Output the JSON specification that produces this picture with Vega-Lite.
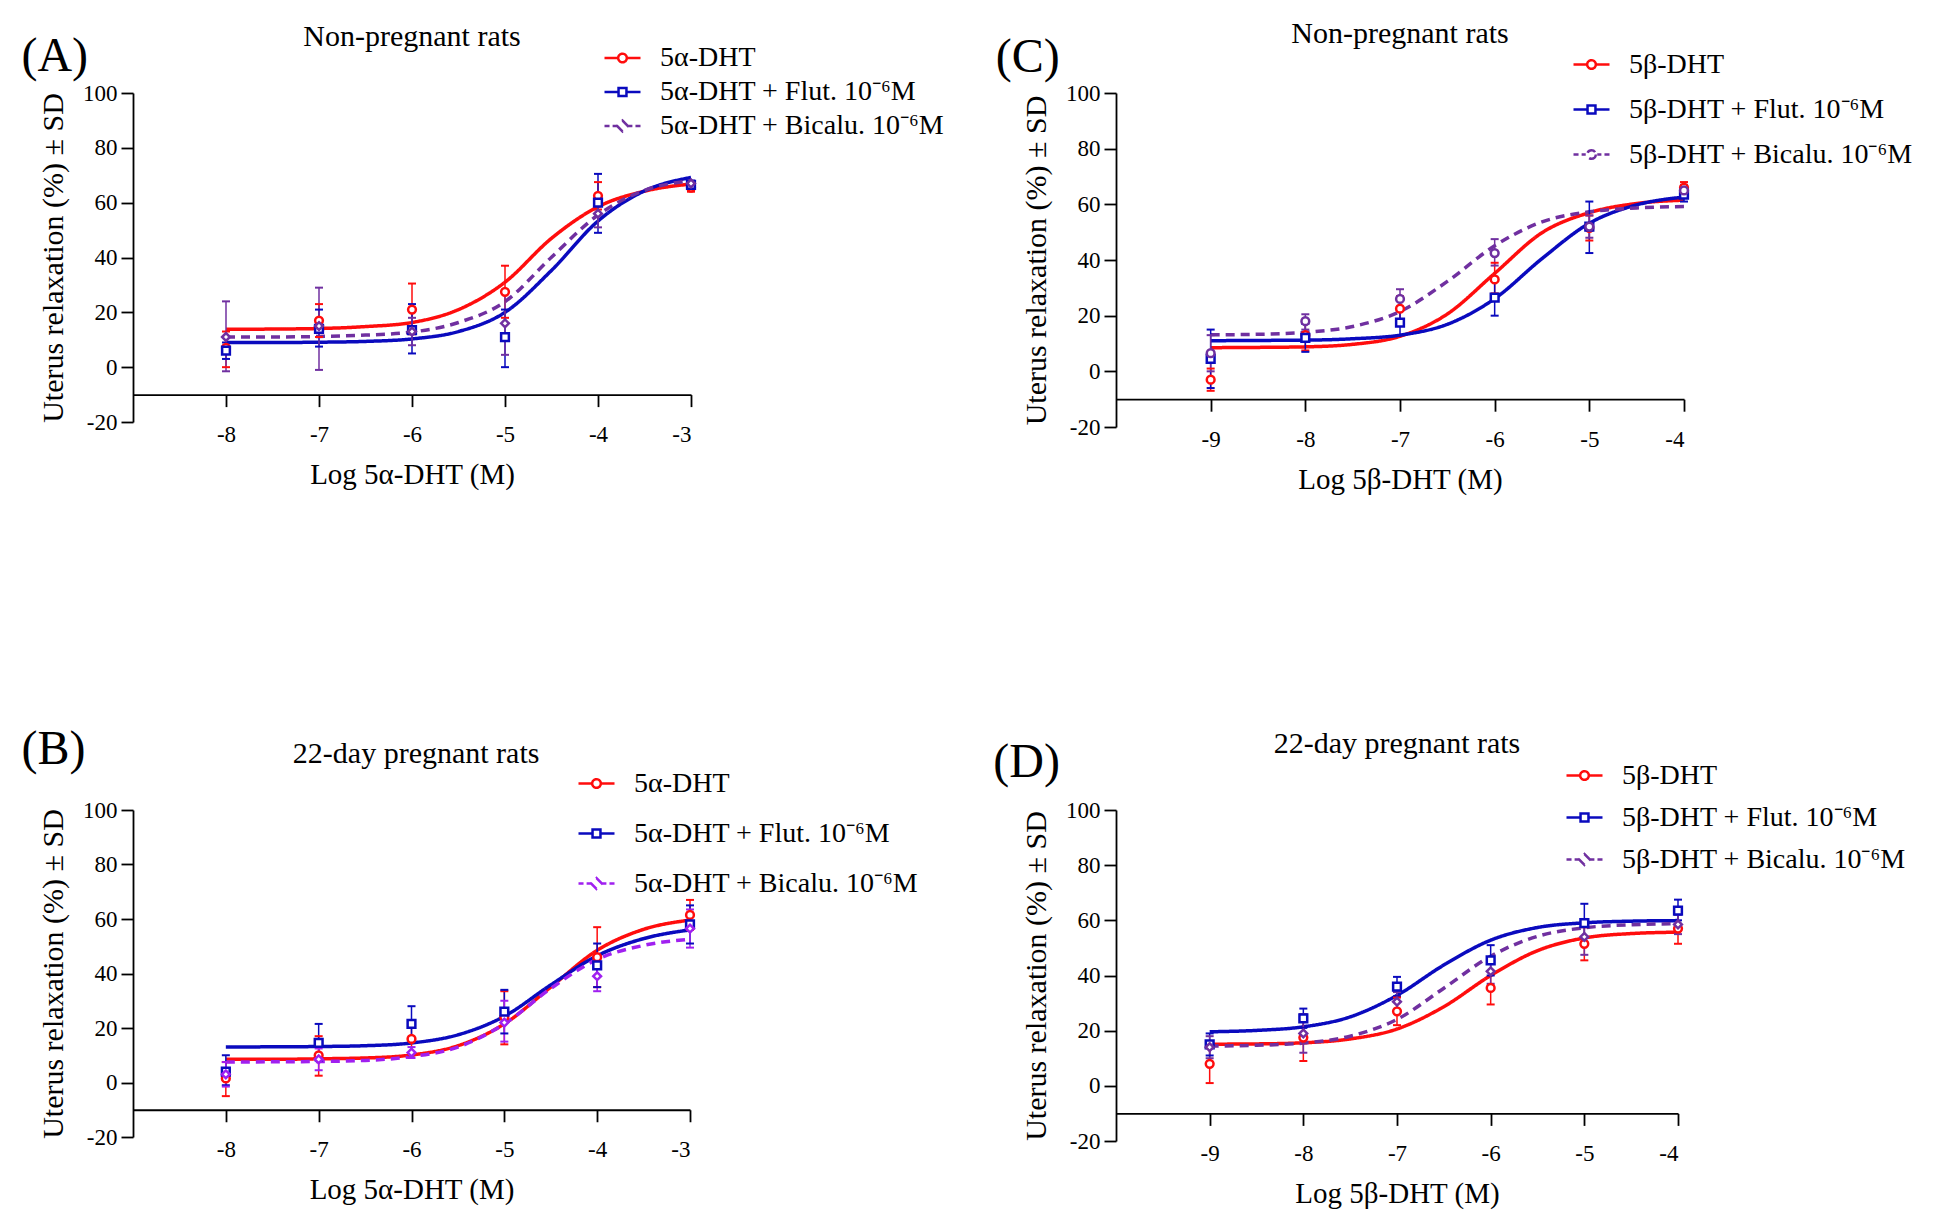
{
  "$schema": "https://vega.github.io/schema/vega-lite/v6.json",
  "background": "white",
  "padding": {"left": 21, "top": 18, "right": 10, "bottom": 10},
  "config": {
    "font": "Liberation Serif",
    "view": {"stroke": null},
    "axis": {"domainColor": "black", "domainWidth": 1.8, "tickColor": "black", "tickWidth": 1.8, "tickSize": 12, "labelColor": "black", "labelFont": "Liberation Serif", "labelFontSize": 23, "titleFont": "Liberation Serif", "titleFontSize": 29, "titleFontWeight": "normal", "titleColor": "black", "grid": false},
    "axisX": {"labelPadding": 17, "titlePadding": 14},
    "axisY": {"labelPadding": 4, "titlePadding": 14, "titleFontSize": 30},
    "legend": {"orient": "none", "title": null, "labelFont": "Liberation Serif", "labelFontSize": 28, "labelColor": "black", "labelLimit": 0, "symbolSize": 1296, "symbolStrokeWidth": 2.5, "symbolOpacity": 1, "symbolFillColor": "white", "labelOffset": 18, "padding": 0}
  },
  "datasets": {
    "ptsA": [
      {"s": "5α-DHT", "x": -8, "y": 7, "lo": 0, "hi": 13},
      {"s": "5α-DHT", "x": -7, "y": 17, "lo": 11, "hi": 23},
      {"s": "5α-DHT", "x": -6, "y": 21, "lo": 12, "hi": 30.5},
      {"s": "5α-DHT", "x": -5, "y": 27.5, "lo": 18, "hi": 37},
      {"s": "5α-DHT", "x": -4, "y": 62.5, "lo": 57.5, "hi": 67.5},
      {"s": "5α-DHT", "x": -3, "y": 65.5, "lo": 64, "hi": 67},
      {"s": "5α-DHT + Flut. 10⁻⁶M", "x": -8, "y": 6, "lo": 3, "hi": 9},
      {"s": "5α-DHT + Flut. 10⁻⁶M", "x": -7, "y": 14, "lo": 7.5, "hi": 21},
      {"s": "5α-DHT + Flut. 10⁻⁶M", "x": -6, "y": 13.5, "lo": 5, "hi": 23},
      {"s": "5α-DHT + Flut. 10⁻⁶M", "x": -5, "y": 11, "lo": 0, "hi": 21},
      {"s": "5α-DHT + Flut. 10⁻⁶M", "x": -4, "y": 60, "lo": 49, "hi": 70.5},
      {"s": "5α-DHT + Flut. 10⁻⁶M", "x": -3, "y": 66.5, "lo": 65, "hi": 68},
      {"s": "5α-DHT + Bicalu. 10⁻⁶M", "x": -8, "y": 11, "lo": -1.5, "hi": 24},
      {"s": "5α-DHT + Bicalu. 10⁻⁶M", "x": -7, "y": 15, "lo": -1, "hi": 29},
      {"s": "5α-DHT + Bicalu. 10⁻⁶M", "x": -6, "y": 13, "lo": 8, "hi": 18},
      {"s": "5α-DHT + Bicalu. 10⁻⁶M", "x": -5, "y": 16, "lo": 4.5, "hi": 27.5},
      {"s": "5α-DHT + Bicalu. 10⁻⁶M", "x": -4, "y": 56, "lo": 51, "hi": 61},
      {"s": "5α-DHT + Bicalu. 10⁻⁶M", "x": -3, "y": 67, "lo": 66, "hi": 68}
    ],
    "fitA": [
      {"s": "5α-DHT", "x": -8, "y": 13.8}, {"s": "5α-DHT", "x": -7.5, "y": 13.9}, {"s": "5α-DHT", "x": -7, "y": 14.1}, {"s": "5α-DHT", "x": -6.5, "y": 14.8}, {"s": "5α-DHT", "x": -6, "y": 16.3}, {"s": "5α-DHT", "x": -5.5, "y": 21}, {"s": "5α-DHT", "x": -5, "y": 31}, {"s": "5α-DHT", "x": -4.5, "y": 47}, {"s": "5α-DHT", "x": -4, "y": 58.5}, {"s": "5α-DHT", "x": -3.5, "y": 64.2}, {"s": "5α-DHT", "x": -3, "y": 66.8},
      {"s": "5α-DHT + Flut. 10⁻⁶M", "x": -8, "y": 9}, {"s": "5α-DHT + Flut. 10⁻⁶M", "x": -7.5, "y": 9}, {"s": "5α-DHT + Flut. 10⁻⁶M", "x": -7, "y": 9.1}, {"s": "5α-DHT + Flut. 10⁻⁶M", "x": -6.5, "y": 9.4}, {"s": "5α-DHT + Flut. 10⁻⁶M", "x": -6, "y": 10.3}, {"s": "5α-DHT + Flut. 10⁻⁶M", "x": -5.5, "y": 13}, {"s": "5α-DHT + Flut. 10⁻⁶M", "x": -5, "y": 20}, {"s": "5α-DHT + Flut. 10⁻⁶M", "x": -4.5, "y": 35.3}, {"s": "5α-DHT + Flut. 10⁻⁶M", "x": -4, "y": 53.3}, {"s": "5α-DHT + Flut. 10⁻⁶M", "x": -3.5, "y": 64.3}, {"s": "5α-DHT + Flut. 10⁻⁶M", "x": -3, "y": 69.2},
      {"s": "5α-DHT + Bicalu. 10⁻⁶M", "x": -8, "y": 11}, {"s": "5α-DHT + Bicalu. 10⁻⁶M", "x": -7.5, "y": 11}, {"s": "5α-DHT + Bicalu. 10⁻⁶M", "x": -7, "y": 11.2}, {"s": "5α-DHT + Bicalu. 10⁻⁶M", "x": -6.5, "y": 11.7}, {"s": "5α-DHT + Bicalu. 10⁻⁶M", "x": -6, "y": 12.8}, {"s": "5α-DHT + Bicalu. 10⁻⁶M", "x": -5.5, "y": 16.3}, {"s": "5α-DHT + Bicalu. 10⁻⁶M", "x": -5, "y": 23.9}, {"s": "5α-DHT + Bicalu. 10⁻⁶M", "x": -4.5, "y": 40.1}, {"s": "5α-DHT + Bicalu. 10⁻⁶M", "x": -4, "y": 55.5}, {"s": "5α-DHT + Bicalu. 10⁻⁶M", "x": -3.5, "y": 64.5}, {"s": "5α-DHT + Bicalu. 10⁻⁶M", "x": -3, "y": 68}
    ],
    "annA": [{"t": "(A)", "k": "letter", "x": -10.2, "y": 113}, {"t": "Non-pregnant rats", "k": "title", "x": -6, "y": 117.2}],
    "ptsB": [
      {"s": "5α-DHT", "x": -8, "y": 1.5, "lo": -5, "hi": 7.5},
      {"s": "5α-DHT", "x": -7, "y": 10, "lo": 2.5, "hi": 17},
      {"s": "5α-DHT", "x": -6, "y": 16, "lo": 10, "hi": 22},
      {"s": "5α-DHT", "x": -5, "y": 24, "lo": 14, "hi": 33.5},
      {"s": "5α-DHT", "x": -4, "y": 46, "lo": 35, "hi": 57},
      {"s": "5α-DHT", "x": -3, "y": 61.5, "lo": 56, "hi": 67},
      {"s": "5α-DHT + Flut. 10⁻⁶M", "x": -8, "y": 4, "lo": -1, "hi": 10},
      {"s": "5α-DHT + Flut. 10⁻⁶M", "x": -7, "y": 14.5, "lo": 8, "hi": 21.5},
      {"s": "5α-DHT + Flut. 10⁻⁶M", "x": -6, "y": 21.5, "lo": 15, "hi": 28},
      {"s": "5α-DHT + Flut. 10⁻⁶M", "x": -5, "y": 26, "lo": 18, "hi": 34},
      {"s": "5α-DHT + Flut. 10⁻⁶M", "x": -4, "y": 43, "lo": 35, "hi": 51},
      {"s": "5α-DHT + Flut. 10⁻⁶M", "x": -3, "y": 58, "lo": 51, "hi": 65},
      {"s": "5α-DHT + Bicalu. 10⁻⁶M", "x": -8, "y": 3, "lo": -1.5, "hi": 7.5},
      {"s": "5α-DHT + Bicalu. 10⁻⁶M", "x": -7, "y": 8.5, "lo": 4.5, "hi": 12.5},
      {"s": "5α-DHT + Bicalu. 10⁻⁶M", "x": -6, "y": 11, "lo": 9, "hi": 13},
      {"s": "5α-DHT + Bicalu. 10⁻⁶M", "x": -5, "y": 22, "lo": 15, "hi": 30},
      {"s": "5α-DHT + Bicalu. 10⁻⁶M", "x": -4, "y": 39, "lo": 33.5, "hi": 44.5},
      {"s": "5α-DHT + Bicalu. 10⁻⁶M", "x": -3, "y": 56.5, "lo": 49.5, "hi": 63.5}
    ],
    "fitB": [
      {"s": "5α-DHT", "x": -8, "y": 8.5}, {"s": "5α-DHT", "x": -7.5, "y": 8.5}, {"s": "5α-DHT", "x": -7, "y": 8.7}, {"s": "5α-DHT", "x": -6.5, "y": 9.0}, {"s": "5α-DHT", "x": -6, "y": 10.1}, {"s": "5α-DHT", "x": -5.5, "y": 13.5}, {"s": "5α-DHT", "x": -5, "y": 21.5}, {"s": "5α-DHT", "x": -4.5, "y": 35}, {"s": "5α-DHT", "x": -4, "y": 48.5}, {"s": "5α-DHT", "x": -3.5, "y": 56.2}, {"s": "5α-DHT", "x": -3, "y": 59.6},
      {"s": "5α-DHT + Flut. 10⁻⁶M", "x": -8, "y": 13}, {"s": "5α-DHT + Flut. 10⁻⁶M", "x": -7.5, "y": 13.1}, {"s": "5α-DHT + Flut. 10⁻⁶M", "x": -7, "y": 13.2}, {"s": "5α-DHT + Flut. 10⁻⁶M", "x": -6.5, "y": 13.5}, {"s": "5α-DHT + Flut. 10⁻⁶M", "x": -6, "y": 14.5}, {"s": "5α-DHT + Flut. 10⁻⁶M", "x": -5.5, "y": 17.5}, {"s": "5α-DHT + Flut. 10⁻⁶M", "x": -5, "y": 24.3}, {"s": "5α-DHT + Flut. 10⁻⁶M", "x": -4.5, "y": 35.8}, {"s": "5α-DHT + Flut. 10⁻⁶M", "x": -4, "y": 46.5}, {"s": "5α-DHT + Flut. 10⁻⁶M", "x": -3.5, "y": 52.8}, {"s": "5α-DHT + Flut. 10⁻⁶M", "x": -3, "y": 56},
      {"s": "5α-DHT + Bicalu. 10⁻⁶M", "x": -8, "y": 7.5}, {"s": "5α-DHT + Bicalu. 10⁻⁶M", "x": -7.5, "y": 7.6}, {"s": "5α-DHT + Bicalu. 10⁻⁶M", "x": -7, "y": 7.7}, {"s": "5α-DHT + Bicalu. 10⁻⁶M", "x": -6.5, "y": 8.1}, {"s": "5α-DHT + Bicalu. 10⁻⁶M", "x": -6, "y": 9.5}, {"s": "5α-DHT + Bicalu. 10⁻⁶M", "x": -5.5, "y": 13}, {"s": "5α-DHT + Bicalu. 10⁻⁶M", "x": -5, "y": 21.5}, {"s": "5α-DHT + Bicalu. 10⁻⁶M", "x": -4.5, "y": 34.5}, {"s": "5α-DHT + Bicalu. 10⁻⁶M", "x": -4, "y": 45.2}, {"s": "5α-DHT + Bicalu. 10⁻⁶M", "x": -3.5, "y": 50.3}, {"s": "5α-DHT + Bicalu. 10⁻⁶M", "x": -3, "y": 52.6}
    ],
    "annB": [{"t": "(B)", "k": "letter", "x": -10.2, "y": 122.2}, {"t": "22-day pregnant rats", "k": "title", "x": -5.95, "y": 117.4}],
    "ptsC": [
      {"s": "5β-DHT", "x": -9, "y": -3, "lo": -7, "hi": 1},
      {"s": "5β-DHT", "x": -8, "y": 13, "lo": 7.5, "hi": 17.5},
      {"s": "5β-DHT", "x": -7, "y": 22.5, "lo": 18, "hi": 27},
      {"s": "5β-DHT", "x": -6, "y": 33, "lo": 28, "hi": 39},
      {"s": "5β-DHT", "x": -5, "y": 51.5, "lo": 47, "hi": 56},
      {"s": "5β-DHT", "x": -4, "y": 66, "lo": 64, "hi": 68},
      {"s": "5β-DHT + Flut. 10⁻⁶M", "x": -9, "y": 4.5, "lo": -6, "hi": 15},
      {"s": "5β-DHT + Flut. 10⁻⁶M", "x": -8, "y": 12, "lo": 7, "hi": 17},
      {"s": "5β-DHT + Flut. 10⁻⁶M", "x": -7, "y": 17.5, "lo": 13, "hi": 22},
      {"s": "5β-DHT + Flut. 10⁻⁶M", "x": -6, "y": 26.5, "lo": 20, "hi": 33},
      {"s": "5β-DHT + Flut. 10⁻⁶M", "x": -5, "y": 52, "lo": 42.5, "hi": 61},
      {"s": "5β-DHT + Flut. 10⁻⁶M", "x": -4, "y": 63.5, "lo": 61, "hi": 66},
      {"s": "5β-DHT + Bicalu. 10⁻⁶M", "x": -9, "y": 6.5, "lo": 0, "hi": 13},
      {"s": "5β-DHT + Bicalu. 10⁻⁶M", "x": -8, "y": 18, "lo": 15, "hi": 20.5},
      {"s": "5β-DHT + Bicalu. 10⁻⁶M", "x": -7, "y": 26, "lo": 23, "hi": 29.5},
      {"s": "5β-DHT + Bicalu. 10⁻⁶M", "x": -6, "y": 42.5, "lo": 38, "hi": 47.5},
      {"s": "5β-DHT + Bicalu. 10⁻⁶M", "x": -5, "y": 52, "lo": 48, "hi": 56},
      {"s": "5β-DHT + Bicalu. 10⁻⁶M", "x": -4, "y": 65, "lo": 63, "hi": 67}
    ],
    "fitC": [
      {"s": "5β-DHT", "x": -9, "y": 8.5}, {"s": "5β-DHT", "x": -8.5, "y": 8.6}, {"s": "5β-DHT", "x": -8, "y": 8.8}, {"s": "5β-DHT", "x": -7.5, "y": 9.7}, {"s": "5β-DHT", "x": -7, "y": 12.6}, {"s": "5β-DHT", "x": -6.5, "y": 20.6}, {"s": "5β-DHT", "x": -6, "y": 35.2}, {"s": "5β-DHT", "x": -5.5, "y": 49.8}, {"s": "5β-DHT", "x": -5, "y": 57}, {"s": "5β-DHT", "x": -4.5, "y": 60.3}, {"s": "5β-DHT", "x": -4, "y": 61.5},
      {"s": "5β-DHT + Flut. 10⁻⁶M", "x": -9, "y": 11}, {"s": "5β-DHT + Flut. 10⁻⁶M", "x": -8.5, "y": 11.1}, {"s": "5β-DHT + Flut. 10⁻⁶M", "x": -8, "y": 11.2}, {"s": "5β-DHT + Flut. 10⁻⁶M", "x": -7.5, "y": 11.7}, {"s": "5β-DHT + Flut. 10⁻⁶M", "x": -7, "y": 13}, {"s": "5β-DHT + Flut. 10⁻⁶M", "x": -6.5, "y": 16.9}, {"s": "5β-DHT + Flut. 10⁻⁶M", "x": -6, "y": 26.1}, {"s": "5β-DHT + Flut. 10⁻⁶M", "x": -5.5, "y": 40.5}, {"s": "5β-DHT + Flut. 10⁻⁶M", "x": -5, "y": 53.2}, {"s": "5β-DHT + Flut. 10⁻⁶M", "x": -4.5, "y": 59.8}, {"s": "5β-DHT + Flut. 10⁻⁶M", "x": -4, "y": 62.6},
      {"s": "5β-DHT + Bicalu. 10⁻⁶M", "x": -9, "y": 13.1}, {"s": "5β-DHT + Bicalu. 10⁻⁶M", "x": -8.5, "y": 13.3}, {"s": "5β-DHT + Bicalu. 10⁻⁶M", "x": -8, "y": 14}, {"s": "5β-DHT + Bicalu. 10⁻⁶M", "x": -7.5, "y": 16.1}, {"s": "5β-DHT + Bicalu. 10⁻⁶M", "x": -7, "y": 21.5}, {"s": "5β-DHT + Bicalu. 10⁻⁶M", "x": -6.5, "y": 32.3}, {"s": "5β-DHT + Bicalu. 10⁻⁶M", "x": -6, "y": 45.1}, {"s": "5β-DHT + Bicalu. 10⁻⁶M", "x": -5.5, "y": 53.7}, {"s": "5β-DHT + Bicalu. 10⁻⁶M", "x": -5, "y": 57.3}, {"s": "5β-DHT + Bicalu. 10⁻⁶M", "x": -4.5, "y": 58.7}, {"s": "5β-DHT + Bicalu. 10⁻⁶M", "x": -4, "y": 59.2}
    ],
    "annC": [{"t": "(C)", "k": "letter", "x": -11.27, "y": 112.5}, {"t": "Non-pregnant rats", "k": "title", "x": -7, "y": 118}],
    "ptsD": [
      {"s": "5β-DHT", "x": -9, "y": 8, "lo": 1, "hi": 15},
      {"s": "5β-DHT", "x": -8, "y": 17.5, "lo": 9, "hi": 26},
      {"s": "5β-DHT", "x": -7, "y": 27, "lo": 22, "hi": 32},
      {"s": "5β-DHT", "x": -6, "y": 35.5, "lo": 29.5, "hi": 41.5},
      {"s": "5β-DHT", "x": -5, "y": 51.5, "lo": 45.5, "hi": 57.5},
      {"s": "5β-DHT", "x": -4, "y": 57, "lo": 51.5, "hi": 63},
      {"s": "5β-DHT + Flut. 10⁻⁶M", "x": -9, "y": 15, "lo": 11, "hi": 19},
      {"s": "5β-DHT + Flut. 10⁻⁶M", "x": -8, "y": 24.5, "lo": 21, "hi": 28},
      {"s": "5β-DHT + Flut. 10⁻⁶M", "x": -7, "y": 36, "lo": 32.5, "hi": 39.5},
      {"s": "5β-DHT + Flut. 10⁻⁶M", "x": -6, "y": 45.5, "lo": 40, "hi": 51},
      {"s": "5β-DHT + Flut. 10⁻⁶M", "x": -5, "y": 59, "lo": 52, "hi": 66},
      {"s": "5β-DHT + Flut. 10⁻⁶M", "x": -4, "y": 63.5, "lo": 60, "hi": 67.5},
      {"s": "5β-DHT + Bicalu. 10⁻⁶M", "x": -9, "y": 14, "lo": 10, "hi": 18},
      {"s": "5β-DHT + Bicalu. 10⁻⁶M", "x": -8, "y": 19, "lo": 12, "hi": 26},
      {"s": "5β-DHT + Bicalu. 10⁻⁶M", "x": -7, "y": 30.5, "lo": 27, "hi": 34},
      {"s": "5β-DHT + Bicalu. 10⁻⁶M", "x": -6, "y": 41.5, "lo": 37, "hi": 46},
      {"s": "5β-DHT + Bicalu. 10⁻⁶M", "x": -5, "y": 54, "lo": 47.5, "hi": 60.5},
      {"s": "5β-DHT + Bicalu. 10⁻⁶M", "x": -4, "y": 58.5, "lo": 55, "hi": 62}
    ],
    "fitD": [
      {"s": "5β-DHT", "x": -9, "y": 15.1}, {"s": "5β-DHT", "x": -8.5, "y": 15.2}, {"s": "5β-DHT", "x": -8, "y": 15.6}, {"s": "5β-DHT", "x": -7.5, "y": 17}, {"s": "5β-DHT", "x": -7, "y": 20.6}, {"s": "5β-DHT", "x": -6.5, "y": 28.7}, {"s": "5β-DHT", "x": -6, "y": 40}, {"s": "5β-DHT", "x": -5.5, "y": 49}, {"s": "5β-DHT", "x": -5, "y": 53.6}, {"s": "5β-DHT", "x": -4.5, "y": 55.2}, {"s": "5β-DHT", "x": -4, "y": 55.7},
      {"s": "5β-DHT + Flut. 10⁻⁶M", "x": -9, "y": 19.6}, {"s": "5β-DHT + Flut. 10⁻⁶M", "x": -8.5, "y": 20.1}, {"s": "5β-DHT + Flut. 10⁻⁶M", "x": -8, "y": 21.4}, {"s": "5β-DHT + Flut. 10⁻⁶M", "x": -7.5, "y": 25}, {"s": "5β-DHT + Flut. 10⁻⁶M", "x": -7, "y": 32.8}, {"s": "5β-DHT + Flut. 10⁻⁶M", "x": -6.5, "y": 43.8}, {"s": "5β-DHT + Flut. 10⁻⁶M", "x": -6, "y": 52.8}, {"s": "5β-DHT + Flut. 10⁻⁶M", "x": -5.5, "y": 57.4}, {"s": "5β-DHT + Flut. 10⁻⁶M", "x": -5, "y": 59.1}, {"s": "5β-DHT + Flut. 10⁻⁶M", "x": -4.5, "y": 59.7}, {"s": "5β-DHT + Flut. 10⁻⁶M", "x": -4, "y": 59.9},
      {"s": "5β-DHT + Bicalu. 10⁻⁶M", "x": -9, "y": 14.4}, {"s": "5β-DHT + Bicalu. 10⁻⁶M", "x": -8.5, "y": 14.7}, {"s": "5β-DHT + Bicalu. 10⁻⁶M", "x": -8, "y": 15.5}, {"s": "5β-DHT + Bicalu. 10⁻⁶M", "x": -7.5, "y": 18}, {"s": "5β-DHT + Bicalu. 10⁻⁶M", "x": -7, "y": 24.1}, {"s": "5β-DHT + Bicalu. 10⁻⁶M", "x": -6.5, "y": 35.4}, {"s": "5β-DHT + Bicalu. 10⁻⁶M", "x": -6, "y": 47}, {"s": "5β-DHT + Bicalu. 10⁻⁶M", "x": -5.5, "y": 54.2}, {"s": "5β-DHT + Bicalu. 10⁻⁶M", "x": -5, "y": 57.3}, {"s": "5β-DHT + Bicalu. 10⁻⁶M", "x": -4.5, "y": 58.4}, {"s": "5β-DHT + Bicalu. 10⁻⁶M", "x": -4, "y": 58.8}
    ],
    "annD": [{"t": "(D)", "k": "letter", "x": -11.31, "y": 117}, {"t": "22-day pregnant rats", "k": "title", "x": -7, "y": 120.5}]
  },
  "columns": 2,
  "bounds": "flush",
  "align": "each",
  "spacing": {"row": 383, "column": 425},
  "resolve": {"scale": {"color": "independent", "shape": "independent", "strokeDash": "independent", "x": "independent", "y": "independent"}, "legend": {"color": "independent", "shape": "independent"}},
  "concat": [
    {
      "width": 558, "height": 329,
      "layer": [
        {"data": {"name": "fitA"}, "mark": {"type": "line", "interpolate": "monotone", "strokeWidth": 3.5},
         "encoding": {
           "x": {"field": "x", "type": "quantitative", "title": "Log 5α-DHT (M)", "scale": {"domain": [-9, -3], "nice": false}, "axis": {"values": [-8, -7, -6, -5, -4, -3], "offset": -27.4, "labelExpr": "'' + datum.value"}},
           "y": {"field": "y", "type": "quantitative", "title": "Uterus relaxation (%) ± SD", "scale": {"domain": [-20, 100], "nice": false}, "axis": {"values": [-20, 0, 20, 40, 60, 80, 100], "labelExpr": "'' + datum.value"}},
           "color": {"field": "s", "type": "nominal", "scale": {"domain": ["5α-DHT", "5α-DHT + Flut. 10⁻⁶M", "5α-DHT + Bicalu. 10⁻⁶M"], "range": ["#ff0d0d", "#0a0abe", "#7030a0"]}, "legend": {"legendX": 470, "legendY": -54.5, "rowPadding": 0}},
           "strokeDash": {"field": "s", "type": "nominal", "scale": {"domain": ["5α-DHT", "5α-DHT + Flut. 10⁻⁶M", "5α-DHT + Bicalu. 10⁻⁶M"], "range": [[1, 0], [1, 0], [9, 6]]}, "legend": null}
         }},
        {"data": {"name": "ptsA"}, "mark": {"type": "rule", "strokeWidth": 1.5},
         "encoding": {"x": {"field": "x", "type": "quantitative", "title": "Log 5α-DHT (M)"}, "y": {"field": "lo", "type": "quantitative", "title": "Uterus relaxation (%) ± SD"}, "y2": {"field": "hi"}, "color": {"field": "s", "type": "nominal"}}},
        {"data": {"name": "ptsA"}, "mark": {"type": "point", "shape": "stroke", "filled": false, "size": 64, "strokeWidth": 2, "opacity": 1},
         "encoding": {"x": {"field": "x", "type": "quantitative", "title": "Log 5α-DHT (M)"}, "y": {"field": "lo", "type": "quantitative", "title": "Uterus relaxation (%) ± SD"}, "color": {"field": "s", "type": "nominal"}}},
        {"data": {"name": "ptsA"}, "mark": {"type": "point", "shape": "stroke", "filled": false, "size": 64, "strokeWidth": 2, "opacity": 1},
         "encoding": {"x": {"field": "x", "type": "quantitative", "title": "Log 5α-DHT (M)"}, "y": {"field": "hi", "type": "quantitative", "title": "Uterus relaxation (%) ± SD"}, "color": {"field": "s", "type": "nominal"}}},
        {"data": {"name": "ptsA"}, "transform": [{"filter": "datum.s === '5α-DHT'"}], "mark": {"type": "point", "shape": "circle", "filled": false, "fill": "white", "fillOpacity": 1, "strokeWidth": 2.5, "size": 60, "opacity": 1},
         "encoding": {"x": {"field": "x", "type": "quantitative", "title": "Log 5α-DHT (M)"}, "y": {"field": "y", "type": "quantitative", "title": "Uterus relaxation (%) ± SD"}, "color": {"field": "s", "type": "nominal"}}},
        {"data": {"name": "ptsA"}, "transform": [{"filter": "datum.s === '5α-DHT + Flut. 10⁻⁶M'"}], "mark": {"type": "point", "shape": "square", "filled": false, "fill": "white", "fillOpacity": 1, "strokeWidth": 2.5, "size": 60, "opacity": 1},
         "encoding": {"x": {"field": "x", "type": "quantitative", "title": "Log 5α-DHT (M)"}, "y": {"field": "y", "type": "quantitative", "title": "Uterus relaxation (%) ± SD"}, "color": {"field": "s", "type": "nominal"}}},
        {"data": {"name": "ptsA"}, "transform": [{"filter": "datum.s === '5α-DHT + Bicalu. 10⁻⁶M'"}], "mark": {"type": "point", "shape": "diamond", "filled": false, "fill": "white", "fillOpacity": 1, "strokeWidth": 2.5, "size": 60, "opacity": 1},
         "encoding": {"x": {"field": "x", "type": "quantitative", "title": "Log 5α-DHT (M)"}, "y": {"field": "y", "type": "quantitative", "title": "Uterus relaxation (%) ± SD"}, "color": {"field": "s", "type": "nominal"}}},
        {"data": {"name": "ptsA"}, "mark": {"type": "point", "filled": false, "opacity": 0, "size": 1296},
         "encoding": {"x": {"field": "x", "type": "quantitative", "title": "Log 5α-DHT (M)"}, "y": {"field": "y", "type": "quantitative", "title": "Uterus relaxation (%) ± SD"}, "color": {"field": "s", "type": "nominal"},
           "shape": {"field": "s", "type": "nominal", "scale": {"domain": ["5α-DHT", "5α-DHT + Flut. 10⁻⁶M", "5α-DHT + Bicalu. 10⁻⁶M"], "range": ["M-1,0H-0.26M0.26,0H1M0.24,0A0.24,0.24,0,1,1,-0.24,0A0.24,0.24,0,1,1,0.24,0Z", "M-1,0H-0.26M0.26,0H1M-0.22,-0.22H0.22V0.22H-0.22Z", "M-1,0H-0.72M-0.55,0H-0.32M0.32,0H0.55M0.72,0H1M0,-0.3L0.3,0L0,0.3L-0.3,0Z"]}}}},
        {"data": {"name": "annA"}, "transform": [{"filter": "datum.k === 'letter'"}], "mark": {"type": "text", "align": "left", "baseline": "middle", "fontSize": 48, "font": "Liberation Serif", "color": "black"},
         "encoding": {"x": {"field": "x", "type": "quantitative", "title": "Log 5α-DHT (M)"}, "y": {"field": "y", "type": "quantitative", "title": "Uterus relaxation (%) ± SD"}, "text": {"field": "t"}}},
        {"data": {"name": "annA"}, "transform": [{"filter": "datum.k === 'title'"}], "mark": {"type": "text", "align": "center", "baseline": "alphabetic", "fontSize": 30, "font": "Liberation Serif", "color": "black"},
         "encoding": {"x": {"field": "x", "type": "quantitative", "title": "Log 5α-DHT (M)"}, "y": {"field": "y", "type": "quantitative", "title": "Uterus relaxation (%) ± SD"}, "text": {"field": "t"}}}
      ]
    },
    {
      "width": 568, "height": 334,
      "layer": [
        {"data": {"name": "fitC"}, "mark": {"type": "line", "interpolate": "monotone", "strokeWidth": 3.5},
         "encoding": {
           "x": {"field": "x", "type": "quantitative", "title": "Log 5β-DHT (M)", "scale": {"domain": [-10, -4], "nice": false}, "axis": {"values": [-9, -8, -7, -6, -5, -4], "offset": -27.8, "labelExpr": "'' + datum.value"}},
           "y": {"field": "y", "type": "quantitative", "title": "Uterus relaxation (%) ± SD", "scale": {"domain": [-20, 100], "nice": false}, "axis": {"values": [-20, 0, 20, 40, 60, 80, 100], "labelExpr": "'' + datum.value"}},
           "color": {"field": "s", "type": "nominal", "scale": {"domain": ["5β-DHT", "5β-DHT + Flut. 10⁻⁶M", "5β-DHT + Bicalu. 10⁻⁶M"], "range": ["#ff0d0d", "#0a0abe", "#7030a0"]}, "legend": {"legendX": 456, "legendY": -48, "rowPadding": 11}},
           "strokeDash": {"field": "s", "type": "nominal", "scale": {"domain": ["5β-DHT", "5β-DHT + Flut. 10⁻⁶M", "5β-DHT + Bicalu. 10⁻⁶M"], "range": [[1, 0], [1, 0], [9, 6]]}, "legend": null}
         }},
        {"data": {"name": "ptsC"}, "mark": {"type": "rule", "strokeWidth": 1.5},
         "encoding": {"x": {"field": "x", "type": "quantitative", "title": "Log 5β-DHT (M)"}, "y": {"field": "lo", "type": "quantitative", "title": "Uterus relaxation (%) ± SD"}, "y2": {"field": "hi"}, "color": {"field": "s", "type": "nominal"}}},
        {"data": {"name": "ptsC"}, "mark": {"type": "point", "shape": "stroke", "filled": false, "size": 64, "strokeWidth": 2, "opacity": 1},
         "encoding": {"x": {"field": "x", "type": "quantitative", "title": "Log 5β-DHT (M)"}, "y": {"field": "lo", "type": "quantitative", "title": "Uterus relaxation (%) ± SD"}, "color": {"field": "s", "type": "nominal"}}},
        {"data": {"name": "ptsC"}, "mark": {"type": "point", "shape": "stroke", "filled": false, "size": 64, "strokeWidth": 2, "opacity": 1},
         "encoding": {"x": {"field": "x", "type": "quantitative", "title": "Log 5β-DHT (M)"}, "y": {"field": "hi", "type": "quantitative", "title": "Uterus relaxation (%) ± SD"}, "color": {"field": "s", "type": "nominal"}}},
        {"data": {"name": "ptsC"}, "transform": [{"filter": "datum.s === '5β-DHT'"}], "mark": {"type": "point", "shape": "circle", "filled": false, "fill": "white", "fillOpacity": 1, "strokeWidth": 2.5, "size": 60, "opacity": 1},
         "encoding": {"x": {"field": "x", "type": "quantitative", "title": "Log 5β-DHT (M)"}, "y": {"field": "y", "type": "quantitative", "title": "Uterus relaxation (%) ± SD"}, "color": {"field": "s", "type": "nominal"}}},
        {"data": {"name": "ptsC"}, "transform": [{"filter": "datum.s === '5β-DHT + Flut. 10⁻⁶M'"}], "mark": {"type": "point", "shape": "square", "filled": false, "fill": "white", "fillOpacity": 1, "strokeWidth": 2.5, "size": 60, "opacity": 1},
         "encoding": {"x": {"field": "x", "type": "quantitative", "title": "Log 5β-DHT (M)"}, "y": {"field": "y", "type": "quantitative", "title": "Uterus relaxation (%) ± SD"}, "color": {"field": "s", "type": "nominal"}}},
        {"data": {"name": "ptsC"}, "transform": [{"filter": "datum.s === '5β-DHT + Bicalu. 10⁻⁶M'"}], "mark": {"type": "point", "shape": "circle", "filled": false, "fill": "white", "fillOpacity": 1, "strokeWidth": 2.5, "size": 60, "opacity": 1},
         "encoding": {"x": {"field": "x", "type": "quantitative", "title": "Log 5β-DHT (M)"}, "y": {"field": "y", "type": "quantitative", "title": "Uterus relaxation (%) ± SD"}, "color": {"field": "s", "type": "nominal"}}},
        {"data": {"name": "ptsC"}, "mark": {"type": "point", "filled": false, "opacity": 0, "size": 1296},
         "encoding": {"x": {"field": "x", "type": "quantitative", "title": "Log 5β-DHT (M)"}, "y": {"field": "y", "type": "quantitative", "title": "Uterus relaxation (%) ± SD"}, "color": {"field": "s", "type": "nominal"},
           "shape": {"field": "s", "type": "nominal", "scale": {"domain": ["5β-DHT", "5β-DHT + Flut. 10⁻⁶M", "5β-DHT + Bicalu. 10⁻⁶M"], "range": ["M-1,0H-0.26M0.26,0H1M0.24,0A0.24,0.24,0,1,1,-0.24,0A0.24,0.24,0,1,1,0.24,0Z", "M-1,0H-0.26M0.26,0H1M-0.22,-0.22H0.22V0.22H-0.22Z", "M-1,0H-0.72M-0.55,0H-0.32M0.32,0H0.55M0.72,0H1M0.24,0A0.24,0.24,0,1,1,-0.24,0A0.24,0.24,0,1,1,0.24,0Z"]}}}},
        {"data": {"name": "annC"}, "transform": [{"filter": "datum.k === 'letter'"}], "mark": {"type": "text", "align": "left", "baseline": "middle", "fontSize": 48, "font": "Liberation Serif", "color": "black"},
         "encoding": {"x": {"field": "x", "type": "quantitative", "title": "Log 5β-DHT (M)"}, "y": {"field": "y", "type": "quantitative", "title": "Uterus relaxation (%) ± SD"}, "text": {"field": "t"}}},
        {"data": {"name": "annC"}, "transform": [{"filter": "datum.k === 'title'"}], "mark": {"type": "text", "align": "center", "baseline": "alphabetic", "fontSize": 30, "font": "Liberation Serif", "color": "black"},
         "encoding": {"x": {"field": "x", "type": "quantitative", "title": "Log 5β-DHT (M)"}, "y": {"field": "y", "type": "quantitative", "title": "Uterus relaxation (%) ± SD"}, "text": {"field": "t"}}}
      ]
    },
    {
      "width": 557, "height": 327,
      "layer": [
        {"data": {"name": "fitB"}, "mark": {"type": "line", "interpolate": "monotone", "strokeWidth": 3.5},
         "encoding": {
           "x": {"field": "x", "type": "quantitative", "title": "Log 5α-DHT (M)", "scale": {"domain": [-9, -3], "nice": false}, "axis": {"values": [-8, -7, -6, -5, -4, -3], "offset": -27.25, "labelExpr": "'' + datum.value"}},
           "y": {"field": "y", "type": "quantitative", "title": "Uterus relaxation (%) ± SD", "scale": {"domain": [-20, 100], "nice": false}, "axis": {"values": [-20, 0, 20, 40, 60, 80, 100], "labelExpr": "'' + datum.value"}},
           "color": {"field": "s", "type": "nominal", "scale": {"domain": ["5α-DHT", "5α-DHT + Flut. 10⁻⁶M", "5α-DHT + Bicalu. 10⁻⁶M"], "range": ["#ff0d0d", "#0a0abe", "#a020f0"]}, "legend": {"legendX": 444, "legendY": -46, "rowPadding": 16}},
           "strokeDash": {"field": "s", "type": "nominal", "scale": {"domain": ["5α-DHT", "5α-DHT + Flut. 10⁻⁶M", "5α-DHT + Bicalu. 10⁻⁶M"], "range": [[1, 0], [1, 0], [9, 6]]}, "legend": null}
         }},
        {"data": {"name": "ptsB"}, "mark": {"type": "rule", "strokeWidth": 1.5},
         "encoding": {"x": {"field": "x", "type": "quantitative", "title": "Log 5α-DHT (M)"}, "y": {"field": "lo", "type": "quantitative", "title": "Uterus relaxation (%) ± SD"}, "y2": {"field": "hi"}, "color": {"field": "s", "type": "nominal"}}},
        {"data": {"name": "ptsB"}, "mark": {"type": "point", "shape": "stroke", "filled": false, "size": 64, "strokeWidth": 2, "opacity": 1},
         "encoding": {"x": {"field": "x", "type": "quantitative", "title": "Log 5α-DHT (M)"}, "y": {"field": "lo", "type": "quantitative", "title": "Uterus relaxation (%) ± SD"}, "color": {"field": "s", "type": "nominal"}}},
        {"data": {"name": "ptsB"}, "mark": {"type": "point", "shape": "stroke", "filled": false, "size": 64, "strokeWidth": 2, "opacity": 1},
         "encoding": {"x": {"field": "x", "type": "quantitative", "title": "Log 5α-DHT (M)"}, "y": {"field": "hi", "type": "quantitative", "title": "Uterus relaxation (%) ± SD"}, "color": {"field": "s", "type": "nominal"}}},
        {"data": {"name": "ptsB"}, "transform": [{"filter": "datum.s === '5α-DHT'"}], "mark": {"type": "point", "shape": "circle", "filled": false, "fill": "white", "fillOpacity": 1, "strokeWidth": 2.5, "size": 60, "opacity": 1},
         "encoding": {"x": {"field": "x", "type": "quantitative", "title": "Log 5α-DHT (M)"}, "y": {"field": "y", "type": "quantitative", "title": "Uterus relaxation (%) ± SD"}, "color": {"field": "s", "type": "nominal"}}},
        {"data": {"name": "ptsB"}, "transform": [{"filter": "datum.s === '5α-DHT + Flut. 10⁻⁶M'"}], "mark": {"type": "point", "shape": "square", "filled": false, "fill": "white", "fillOpacity": 1, "strokeWidth": 2.5, "size": 60, "opacity": 1},
         "encoding": {"x": {"field": "x", "type": "quantitative", "title": "Log 5α-DHT (M)"}, "y": {"field": "y", "type": "quantitative", "title": "Uterus relaxation (%) ± SD"}, "color": {"field": "s", "type": "nominal"}}},
        {"data": {"name": "ptsB"}, "transform": [{"filter": "datum.s === '5α-DHT + Bicalu. 10⁻⁶M'"}], "mark": {"type": "point", "shape": "diamond", "filled": false, "fill": "white", "fillOpacity": 1, "strokeWidth": 2.5, "size": 60, "opacity": 1},
         "encoding": {"x": {"field": "x", "type": "quantitative", "title": "Log 5α-DHT (M)"}, "y": {"field": "y", "type": "quantitative", "title": "Uterus relaxation (%) ± SD"}, "color": {"field": "s", "type": "nominal"}}},
        {"data": {"name": "ptsB"}, "mark": {"type": "point", "filled": false, "opacity": 0, "size": 1296},
         "encoding": {"x": {"field": "x", "type": "quantitative", "title": "Log 5α-DHT (M)"}, "y": {"field": "y", "type": "quantitative", "title": "Uterus relaxation (%) ± SD"}, "color": {"field": "s", "type": "nominal"},
           "shape": {"field": "s", "type": "nominal", "scale": {"domain": ["5α-DHT", "5α-DHT + Flut. 10⁻⁶M", "5α-DHT + Bicalu. 10⁻⁶M"], "range": ["M-1,0H-0.26M0.26,0H1M0.24,0A0.24,0.24,0,1,1,-0.24,0A0.24,0.24,0,1,1,0.24,0Z", "M-1,0H-0.26M0.26,0H1M-0.22,-0.22H0.22V0.22H-0.22Z", "M-1,0H-0.72M-0.55,0H-0.32M0.32,0H0.55M0.72,0H1M0,-0.3L0.3,0L0,0.3L-0.3,0Z"]}}}},
        {"data": {"name": "annB"}, "transform": [{"filter": "datum.k === 'letter'"}], "mark": {"type": "text", "align": "left", "baseline": "middle", "fontSize": 48, "font": "Liberation Serif", "color": "black"},
         "encoding": {"x": {"field": "x", "type": "quantitative", "title": "Log 5α-DHT (M)"}, "y": {"field": "y", "type": "quantitative", "title": "Uterus relaxation (%) ± SD"}, "text": {"field": "t"}}},
        {"data": {"name": "annB"}, "transform": [{"filter": "datum.k === 'title'"}], "mark": {"type": "text", "align": "center", "baseline": "alphabetic", "fontSize": 30, "font": "Liberation Serif", "color": "black"},
         "encoding": {"x": {"field": "x", "type": "quantitative", "title": "Log 5α-DHT (M)"}, "y": {"field": "y", "type": "quantitative", "title": "Uterus relaxation (%) ± SD"}, "text": {"field": "t"}}}
      ]
    },
    {
      "width": 562, "height": 331,
      "layer": [
        {"data": {"name": "fitD"}, "mark": {"type": "line", "interpolate": "monotone", "strokeWidth": 3.5},
         "encoding": {
           "x": {"field": "x", "type": "quantitative", "title": "Log 5β-DHT (M)", "scale": {"domain": [-10, -4], "nice": false}, "axis": {"values": [-9, -8, -7, -6, -5, -4], "offset": -27.6, "labelExpr": "'' + datum.value"}},
           "y": {"field": "y", "type": "quantitative", "title": "Uterus relaxation (%) ± SD", "scale": {"domain": [-20, 100], "nice": false}, "axis": {"values": [-20, 0, 20, 40, 60, 80, 100], "labelExpr": "'' + datum.value"}},
           "color": {"field": "s", "type": "nominal", "scale": {"domain": ["5β-DHT", "5β-DHT + Flut. 10⁻⁶M", "5β-DHT + Bicalu. 10⁻⁶M"], "range": ["#ff0d0d", "#0a0abe", "#7030a0"]}, "legend": {"legendX": 449, "legendY": -54, "rowPadding": 8}},
           "strokeDash": {"field": "s", "type": "nominal", "scale": {"domain": ["5β-DHT", "5β-DHT + Flut. 10⁻⁶M", "5β-DHT + Bicalu. 10⁻⁶M"], "range": [[1, 0], [1, 0], [9, 6]]}, "legend": null}
         }},
        {"data": {"name": "ptsD"}, "mark": {"type": "rule", "strokeWidth": 1.5},
         "encoding": {"x": {"field": "x", "type": "quantitative", "title": "Log 5β-DHT (M)"}, "y": {"field": "lo", "type": "quantitative", "title": "Uterus relaxation (%) ± SD"}, "y2": {"field": "hi"}, "color": {"field": "s", "type": "nominal"}}},
        {"data": {"name": "ptsD"}, "mark": {"type": "point", "shape": "stroke", "filled": false, "size": 64, "strokeWidth": 2, "opacity": 1},
         "encoding": {"x": {"field": "x", "type": "quantitative", "title": "Log 5β-DHT (M)"}, "y": {"field": "lo", "type": "quantitative", "title": "Uterus relaxation (%) ± SD"}, "color": {"field": "s", "type": "nominal"}}},
        {"data": {"name": "ptsD"}, "mark": {"type": "point", "shape": "stroke", "filled": false, "size": 64, "strokeWidth": 2, "opacity": 1},
         "encoding": {"x": {"field": "x", "type": "quantitative", "title": "Log 5β-DHT (M)"}, "y": {"field": "hi", "type": "quantitative", "title": "Uterus relaxation (%) ± SD"}, "color": {"field": "s", "type": "nominal"}}},
        {"data": {"name": "ptsD"}, "transform": [{"filter": "datum.s === '5β-DHT'"}], "mark": {"type": "point", "shape": "circle", "filled": false, "fill": "white", "fillOpacity": 1, "strokeWidth": 2.5, "size": 60, "opacity": 1},
         "encoding": {"x": {"field": "x", "type": "quantitative", "title": "Log 5β-DHT (M)"}, "y": {"field": "y", "type": "quantitative", "title": "Uterus relaxation (%) ± SD"}, "color": {"field": "s", "type": "nominal"}}},
        {"data": {"name": "ptsD"}, "transform": [{"filter": "datum.s === '5β-DHT + Flut. 10⁻⁶M'"}], "mark": {"type": "point", "shape": "square", "filled": false, "fill": "white", "fillOpacity": 1, "strokeWidth": 2.5, "size": 60, "opacity": 1},
         "encoding": {"x": {"field": "x", "type": "quantitative", "title": "Log 5β-DHT (M)"}, "y": {"field": "y", "type": "quantitative", "title": "Uterus relaxation (%) ± SD"}, "color": {"field": "s", "type": "nominal"}}},
        {"data": {"name": "ptsD"}, "transform": [{"filter": "datum.s === '5β-DHT + Bicalu. 10⁻⁶M'"}], "mark": {"type": "point", "shape": "diamond", "filled": false, "fill": "white", "fillOpacity": 1, "strokeWidth": 2.5, "size": 60, "opacity": 1},
         "encoding": {"x": {"field": "x", "type": "quantitative", "title": "Log 5β-DHT (M)"}, "y": {"field": "y", "type": "quantitative", "title": "Uterus relaxation (%) ± SD"}, "color": {"field": "s", "type": "nominal"}}},
        {"data": {"name": "ptsD"}, "mark": {"type": "point", "filled": false, "opacity": 0, "size": 1296},
         "encoding": {"x": {"field": "x", "type": "quantitative", "title": "Log 5β-DHT (M)"}, "y": {"field": "y", "type": "quantitative", "title": "Uterus relaxation (%) ± SD"}, "color": {"field": "s", "type": "nominal"},
           "shape": {"field": "s", "type": "nominal", "scale": {"domain": ["5β-DHT", "5β-DHT + Flut. 10⁻⁶M", "5β-DHT + Bicalu. 10⁻⁶M"], "range": ["M-1,0H-0.26M0.26,0H1M0.24,0A0.24,0.24,0,1,1,-0.24,0A0.24,0.24,0,1,1,0.24,0Z", "M-1,0H-0.26M0.26,0H1M-0.22,-0.22H0.22V0.22H-0.22Z", "M-1,0H-0.72M-0.55,0H-0.32M0.32,0H0.55M0.72,0H1M0,-0.3L0.3,0L0,0.3L-0.3,0Z"]}}}},
        {"data": {"name": "annD"}, "transform": [{"filter": "datum.k === 'letter'"}], "mark": {"type": "text", "align": "left", "baseline": "middle", "fontSize": 48, "font": "Liberation Serif", "color": "black"},
         "encoding": {"x": {"field": "x", "type": "quantitative", "title": "Log 5β-DHT (M)"}, "y": {"field": "y", "type": "quantitative", "title": "Uterus relaxation (%) ± SD"}, "text": {"field": "t"}}},
        {"data": {"name": "annD"}, "transform": [{"filter": "datum.k === 'title'"}], "mark": {"type": "text", "align": "center", "baseline": "alphabetic", "fontSize": 30, "font": "Liberation Serif", "color": "black"},
         "encoding": {"x": {"field": "x", "type": "quantitative", "title": "Log 5β-DHT (M)"}, "y": {"field": "y", "type": "quantitative", "title": "Uterus relaxation (%) ± SD"}, "text": {"field": "t"}}}
      ]
    }
  ]
}
